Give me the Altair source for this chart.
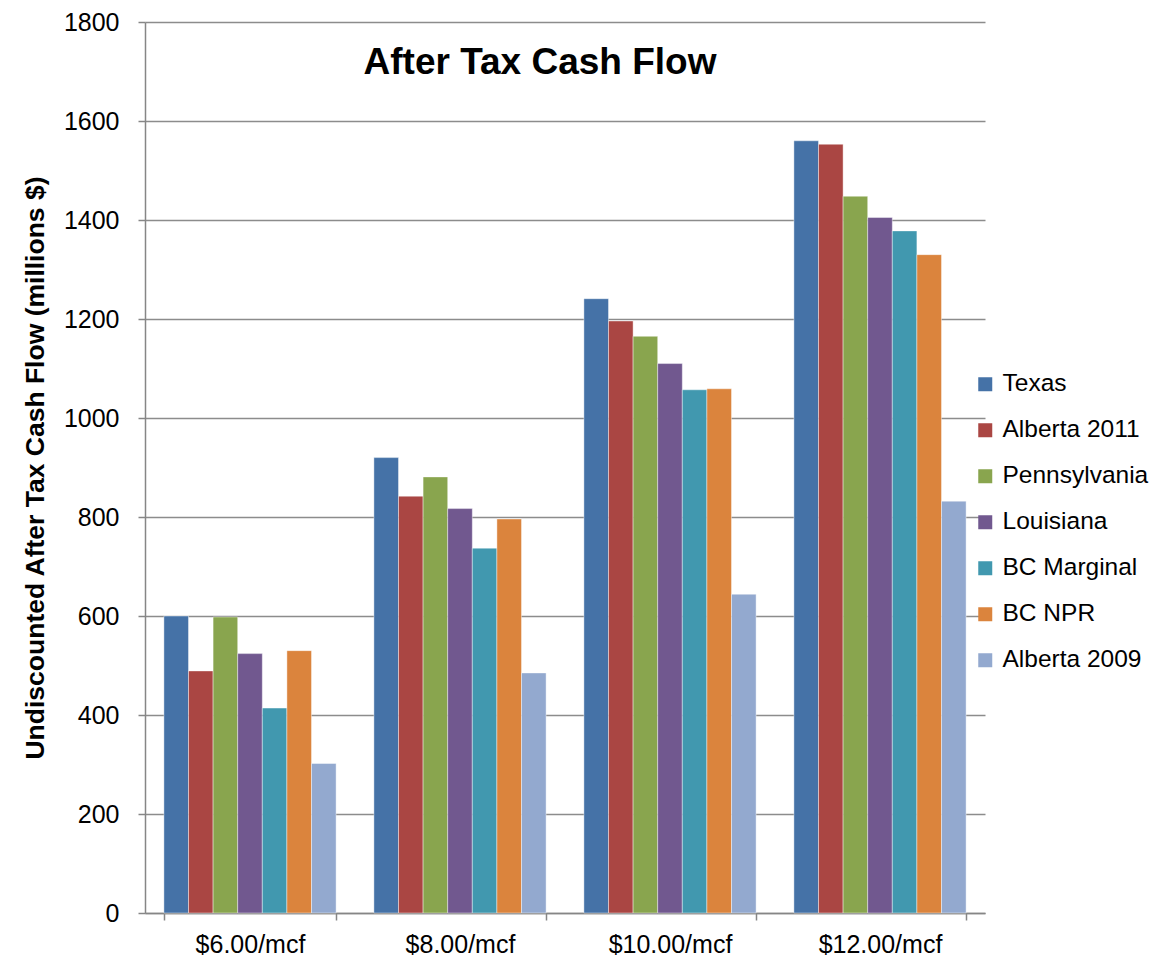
import altair as alt
import pandas as pd

categories = ["$6.00/mcf", "$8.00/mcf", "$10.00/mcf", "$12.00/mcf"]
series = ["Texas", "Alberta 2011", "Pennsylvania", "Louisiana", "BC Marginal", "BC NPR", "Alberta 2009"]
colors = ["#4572A7", "#AA4643", "#89A54E", "#71588F", "#4198AF", "#DB843D", "#93A9CF"]

texas = [600, 920, 1241, 1560]
alberta_2011 = [489, 842, 1196, 1553]
pennsylvania = [598, 881, 1165, 1448]
louisiana = [524, 817, 1110, 1405]
bc_marginal = [414, 737, 1057, 1378]
bc_npr = [530, 796, 1059, 1330]
alberta_2009 = [302, 485, 644, 832]

values = [texas, alberta_2011, pennsylvania, louisiana, bc_marginal, bc_npr, alberta_2009]
rows = []
for s, vals in zip(series, values):
    for c, v in zip(categories, vals):
        rows.append({"price": c, "series": s, "value": v})
df = pd.DataFrame(rows)

FONT = "Liberation Sans"

chart = alt.Chart(df).mark_bar(stroke="white", strokeWidth=0.6, strokeOpacity=0.7).encode(
    x=alt.X("price:N", sort=categories,
            scale=alt.Scale(paddingInner=0.18, paddingOuter=0.09),
            axis=alt.Axis(title=None, labelAngle=0, labelFontSize=25, labelColor="black",
                          labelPadding=12, tickBand="extent", tickSize=7, tickColor="#868686",
                          tickWidth=1.5, domainColor="#868686", domainWidth=1.5, grid=False)),
    xOffset=alt.XOffset("series:N", sort=series, scale=alt.Scale(paddingInner=0, paddingOuter=0)),
    y=alt.Y("value:Q", scale=alt.Scale(domain=[0, 1800], nice=False),
            axis=alt.Axis(title="Undiscounted After Tax Cash Flow (millions $)",
                          values=list(range(0, 1801, 200)), format="d",
                          labelFontSize=25, labelColor="black",
                          labelPadding=19, tickSize=7, tickColor="#868686", tickWidth=1.5,
                          domainColor="#868686", domainWidth=1.5,
                          grid=True, gridColor="#8c8c8c", gridWidth=1.5,
                          titleFontSize=26.5, titleFontWeight="bold", titleColor="black",
                          titleFont=FONT, titlePadding=14)),
    color=alt.Color("series:N", sort=series,
                    scale=alt.Scale(domain=series, range=colors),
                    legend=alt.Legend(title=None, orient="none", legendX=828, legendY=350,
                                      symbolType="square", symbolSize=196, symbolStrokeWidth=0,
                                      labelFontSize=24.5, labelColor="black", rowPadding=21,
                                      labelOffset=5, labelLimit=300)),
).properties(
    width=840,
    height=891,
    title=alt.TitleParams("After Tax Cash Flow", fontSize=37, fontWeight="bold", color="black",
                          anchor="middle", dx=-25, offset=-72, font=FONT),
    autosize=alt.AutoSizeParams(type="none"),
    padding={"left": 137, "top": 14, "right": 166, "bottom": 44},
).configure(font=FONT).configure_view(stroke=None)

chart.save("out.html", embed_options={"renderer": "svg", "actions": False})
